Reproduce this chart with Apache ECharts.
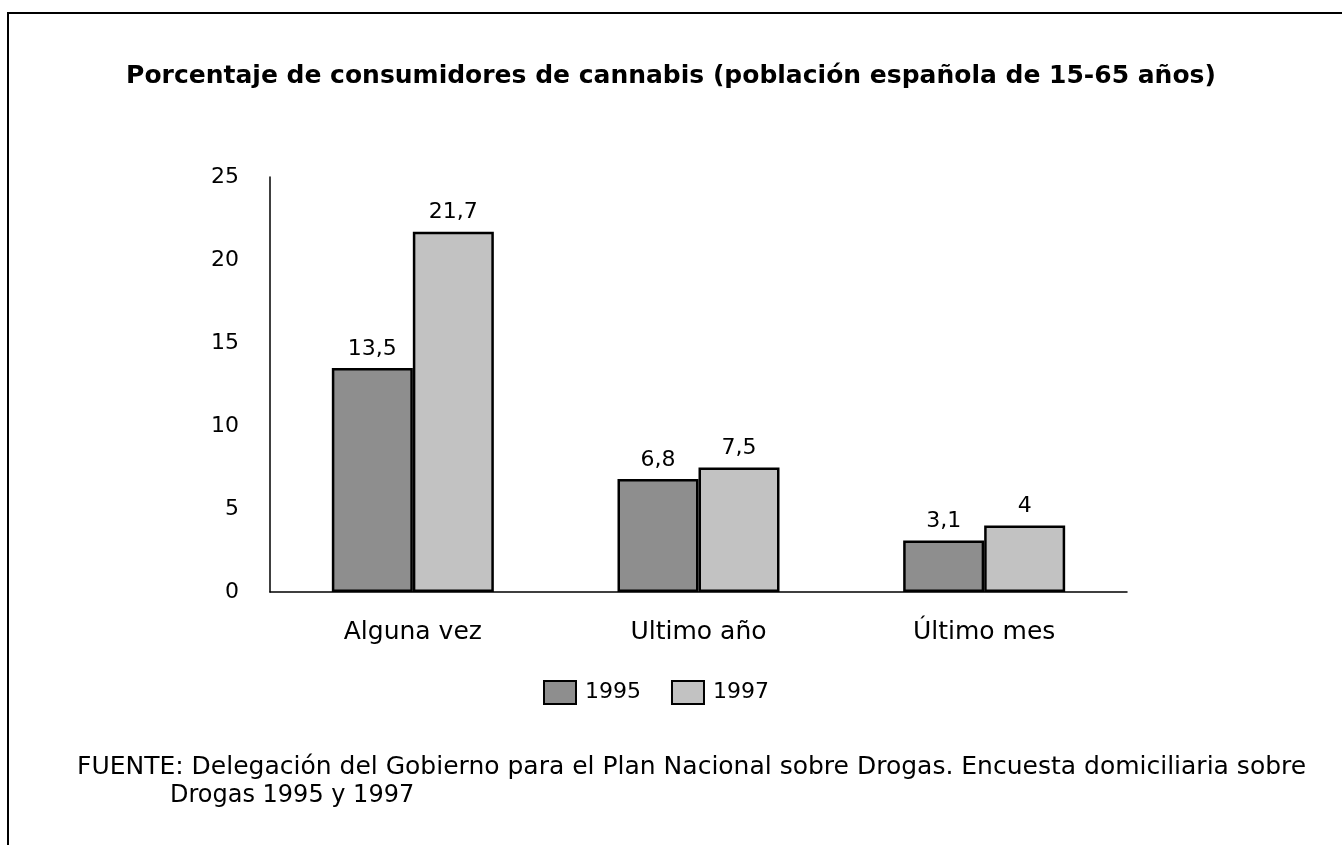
<!DOCTYPE html>
<html>
<head>
<meta charset="utf-8">
<script src="https://cdn.jsdelivr.net/npm/echarts@6/dist/echarts.min.js"></script>
<style>
  html, body { margin: 0; padding: 0; background: #fff; }
  #chart { width: 1342px; height: 845px; }
</style>
</head>
<body>
<div id="chart"></div>
<script>
// datos
const categorias = ["Alguna vez", "Ultimo año", "Último mes"];
const valores1995 = [13.5, 6.8, 3.1];
const valores1997 = [21.7, 7.5, 4];
const ticksY = [0, 5, 10, 15, 20, 25];

const fuente = "DejaVu Sans, Verdana, sans-serif";
const fmt = (p) => String(p.value).replace(".", ",");

let myChart = echarts.init(document.getElementById("chart"));
let options = {
    backgroundColor: "#fff",
    animation: false,
    title: {
        text: "Porcentaje de consumidores de cannabis (población española de 15-65 años)",
        left: "center",
        top: 59,
        textStyle: {
            fontFamily: fuente,
            fontWeight: "bold",
            fontSize: 25,
            color: "#000",
        },
    },
    legend: {
        data: ["1995", "1997"],
        top: 675,
        left: 538,
        icon: "rect",
        itemWidth: 32,
        itemHeight: 23,
        itemGap: 30,
        textStyle: {
            fontFamily: fuente,
            fontSize: 22,
            color: "#000",
            padding: [0, 0, 0, 4],
        },
    },
    grid: {
        left: 270,
        right: 215,
        top: 177,
        bottom: 253,
    },
    xAxis: {
        type: "category",
        data: categorias,
        axisLine: { lineStyle: { color: "#000", width: 1.5 } },
        axisTick: { show: false },
        axisLabel: {
            fontFamily: fuente,
            fontSize: 25,
            color: "#000",
            margin: 28,
        },
    },
    yAxis: {
        type: "value",
        min: ticksY[0],
        max: ticksY[ticksY.length - 1],
        interval: 5,
        axisLine: { show: true, lineStyle: { color: "#000", width: 1.5 } },
        axisTick: { show: false },
        splitLine: { show: false },
        axisLabel: {
            fontFamily: fuente,
            fontSize: 22,
            color: "#000",
            margin: 31,
        },
    },
    series: [
        {
            name: "1995",
            type: "bar",
            data: valores1995,
            barWidth: 81,
            barGap: "0%",
            itemStyle: { color: "#8e8e8e", borderColor: "#000", borderWidth: 2.5 },
            label: {
                show: true,
                position: "top",
                distance: 8,
                formatter: fmt,
                fontFamily: fuente,
                fontSize: 22,
                color: "#000",
            },
        },
        {
            name: "1997",
            type: "bar",
            data: valores1997,
            barWidth: 81,
            itemStyle: { color: "#c2c2c2", borderColor: "#000", borderWidth: 2.5 },
            label: {
                show: true,
                position: "top",
                distance: 8,
                formatter: fmt,
                fontFamily: fuente,
                fontSize: 22,
                color: "#000",
            },
        },
    ],
    graphic: [
        // marco
        {
            type: "polyline",
            shape: { points: [[8, 845], [8, 13], [1342, 13]] },
            style: { stroke: "#000", lineWidth: 2, fill: null },
        },
        {
            type: "text",
            left: 77,
            top: 755,
            style: {
                text: "FUENTE: Delegación del Gobierno para el Plan Nacional sobre Drogas. Encuesta domiciliaria sobre",
                font: "25px " + fuente,
                fill: "#000",
            },
        },
        {
            type: "text",
            left: 170,
            top: 784,
            style: {
                text: "Drogas 1995 y 1997",
                font: "24px " + fuente,
                fill: "#000",
            },
        },
    ],
};
myChart.setOption(options);
</script>
</body>
</html>
